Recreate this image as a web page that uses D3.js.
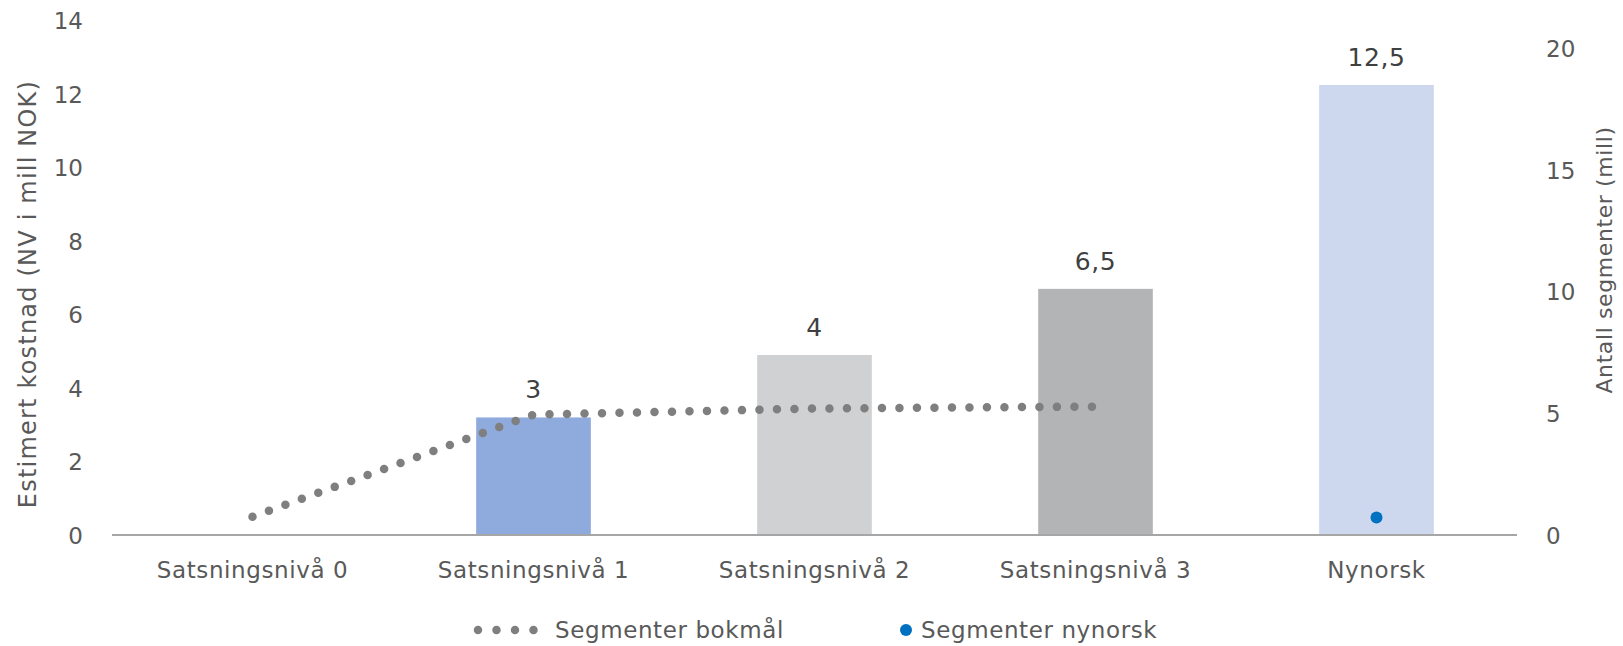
<!DOCTYPE html>
<html>
<head>
<meta charset="utf-8">
<script src="https://cdn.jsdelivr.net/npm/d3@7"></script>
<style>
    body { margin: 0; background: #fff; }
    text { font-family: "DejaVu Sans", sans-serif; fill: #595959; letter-spacing: 0.6px; }
</style>
</head>
<body>
<div id="chart"></div>
<script>
// data
const categories = ["Satsningsnivå 0", "Satsningsnivå 1", "Satsningsnivå 2", "Satsningsnivå 3", "Nynorsk"];
const costValues = [0, 3.2, 4.9, 6.7, 12.25];
const costLabels = ["", "3", "4", "6,5", "12,5"];
const bokmalSegments = [0.75, 4.95, 5.2, 5.28, null];
const nynorskSegments = [null, null, null, null, 0.72];
const leftTicks = [0, 2, 4, 6, 8, 10, 12, 14];
const rightTicks = [0, 5, 10, 15, 20];
const barColors = ["#8FAADC", "#8FAADC", "#D0D1D3", "#B3B4B6", "#CDD8EF"];

class CostChart {

    constructor(parentElement) {
        this.parentElement = parentElement;
        this.initVis();
    }

    initVis() {
        let vis = this;

        vis.width = 1623;
        vis.height = 646;
        vis.plot = {left: 112, right: 1517, top: 20.7, bottom: 535};

        vis.svg = d3.select("#" + vis.parentElement).append("svg")
            .attr("width", vis.width)
            .attr("height", vis.height);

        // scales
        vis.x = d3.scaleBand()
            .domain(categories)
            .range([vis.plot.left, vis.plot.right])
            .paddingInner(0.592)
            .paddingOuter(0.296);

        vis.y = d3.scaleLinear()
            .domain([0, 14])
            .range([vis.plot.bottom, vis.plot.top]);

        // secondary axis (segments)
        vis.y2 = d3.scaleLinear()
            .domain([0, 21.15])
            .range([vis.plot.bottom, vis.plot.top]);

        vis.drawAxes();
        vis.drawBars();
        vis.drawLines();
        vis.drawLegend();
    }

    drawAxes() {
        let vis = this;

        let yAxis = d3.axisLeft(vis.y).tickValues(leftTicks).tickSize(0).tickPadding(0);
        let gy = vis.svg.append("g")
            .attr("class", "y-axis")
            .attr("transform", "translate(83,0)")
            .call(yAxis);
        gy.select(".domain").remove();
        gy.selectAll("text").style("font-size", "23px").style("letter-spacing", "0px").attr("dy", "0.35em");

        let y2Axis = d3.axisRight(vis.y2).tickValues(rightTicks).tickSize(0).tickPadding(0);
        let gy2 = vis.svg.append("g")
            .attr("class", "y2-axis")
            .attr("transform", "translate(1546,0)")
            .call(y2Axis);
        gy2.select(".domain").remove();
        gy2.selectAll("text").style("font-size", "23px").style("letter-spacing", "0px").attr("dy", "0.35em");

        let xAxis = d3.axisBottom(vis.x).tickSize(0).tickPadding(0);
        let gx = vis.svg.append("g")
            .attr("class", "x-axis")
            .attr("transform", `translate(0,${vis.plot.bottom})`)
            .call(xAxis);
        gx.select(".domain").remove();
        gx.selectAll("text")
            .style("font-size", "23px")
            .attr("y", 35)
            .attr("dy", "0.35em");

        // axis titles
        vis.svg.append("text")
            .attr("transform", "translate(28,294)rotate(-90)")
            .attr("text-anchor", "middle")
            .attr("dy", "0.35em")
            .style("font-size", "24px")
            .style("letter-spacing", "1.2px")
            .text("Estimert kostnad (NV i mill NOK)");

        vis.svg.append("text")
            .attr("transform", "translate(1604,260)rotate(-90)")
            .attr("text-anchor", "middle")
            .attr("dy", "0.35em")
            .style("font-size", "22px")
            .text("Antall segmenter (mill)");
    }

    drawBars() {
        let vis = this;

        vis.svg.selectAll(".bar")
            .data(categories)
            .enter()
            .append("rect")
            .attr("class", "bar")
            .attr("x", d => vis.x(d))
            .attr("width", vis.x.bandwidth())
            .attr("y", (d, i) => vis.y(costValues[i]))
            .attr("height", (d, i) => vis.y(0) - vis.y(costValues[i]))
            .attr("fill", (d, i) => barColors[i]);

        // baseline
        vis.svg.append("line")
            .attr("x1", vis.plot.left)
            .attr("x2", vis.plot.right)
            .attr("y1", vis.y(0))
            .attr("y2", vis.y(0))
            .attr("stroke", "#A6A6A6")
            .attr("stroke-width", 2);

        vis.svg.selectAll(".bar-label")
            .data(categories)
            .enter()
            .append("text")
            .attr("class", "bar-label")
            .attr("x", d => vis.x(d) + vis.x.bandwidth() / 2)
            .attr("y", (d, i) => vis.y(costValues[i]) - 28)
            .attr("dy", "0.35em")
            .attr("text-anchor", "middle")
            .style("font-size", "25px")
            .style("fill", "#404040")
            .text((d, i) => costLabels[i]);
    }

    drawLines() {
        let vis = this;
        let cx = d => vis.x(d) + vis.x.bandwidth() / 2;

        let bokmal = categories.map((d, i) => ({cat: d, v: bokmalSegments[i]}))
            .filter(d => d.v !== null);

        let line = d3.line()
            .x(d => cx(d.cat))
            .y(d => vis.y2(d.v));

        vis.svg.append("path")
            .datum(bokmal)
            .attr("d", line)
            .attr("fill", "none")
            .attr("stroke", "#7F7F7F")
            .attr("stroke-width", 8.5)
            .attr("stroke-linecap", "round")
            .attr("stroke-dasharray", "0 17.5");

        let nynorsk = categories.map((d, i) => ({cat: d, v: nynorskSegments[i]}))
            .filter(d => d.v !== null);

        vis.svg.selectAll(".ny-dot")
            .data(nynorsk)
            .enter()
            .append("circle")
            .attr("class", "ny-dot")
            .attr("cx", d => cx(d.cat))
            .attr("cy", d => vis.y2(d.v))
            .attr("r", 6)
            .attr("fill", "#0070C0");
    }

    drawLegend() {
        let vis = this;
        let ly = 630;

        let legend = vis.svg.append("g").attr("class", "legend");

        legend.append("line")
            .attr("x1", 478).attr("x2", 534)
            .attr("y1", ly).attr("y2", ly)
            .attr("stroke", "#7F7F7F")
            .attr("stroke-width", 8.5)
            .attr("stroke-linecap", "round")
            .attr("stroke-dasharray", "0 18.5");

        legend.append("text")
            .attr("x", 555).attr("y", ly)
            .attr("dy", "0.35em")
            .style("font-size", "23px")
            .text("Segmenter bokmål");

        legend.append("circle")
            .attr("cx", 906).attr("cy", ly)
            .attr("r", 6)
            .attr("fill", "#0070C0");

        legend.append("text")
            .attr("x", 921).attr("y", ly)
            .attr("dy", "0.35em")
            .style("font-size", "23px")
            .text("Segmenter nynorsk");
    }
}

new CostChart("chart");
</script>
</body>
</html>
